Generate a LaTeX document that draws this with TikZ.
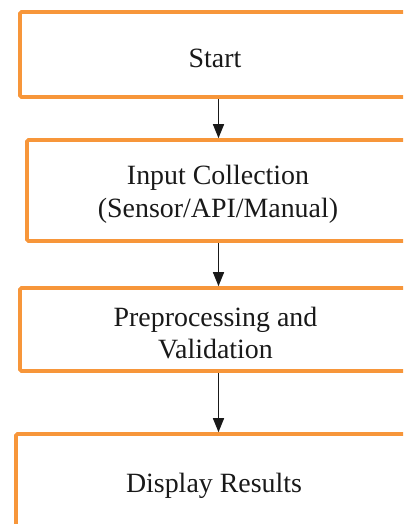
\documentclass[tikz,border=0pt]{standalone}
\usepackage{fontspec}
\setmainfont{Liberation Serif}
\usetikzlibrary{arrows.meta}
\definecolor{boxorange}{RGB}{247,150,58}
\newcommand{\topstrut}{\rule{0pt}{26.5bp}}
\tikzset{
    stepbox/.style={draw=boxorange, line width=3.6bp, rounded corners=1.5bp,
        align=center, font=\fontsize{28}{33}\selectfont, text=black!90},
    flow/.style={line width=1.4bp, black!90, -{Triangle[length=14bp,width=11bp]}}
}
\begin{document}
\begin{tikzpicture}[x=1bp, y=-1bp]
    \useasboundingbox (0,0) rectangle (403,524);
    \clip (0,0) rectangle (403,524);
    \node[stepbox, minimum width=390bp, minimum height=85bp] (start) at (215,54.5) {\topstrut Start};
    \node[stepbox, minimum width=382bp, minimum height=101bp] (input) at (218,190.5)
        {\topstrut Input Collection\\(Sensor/API/Manual)};
    \node[stepbox, minimum width=391bp, minimum height=83bp] (prep) at (215.5,329.5)
        {\topstrut Preprocessing and\\Validation};
    \node[stepbox, minimum width=396bp, minimum height=96bp] (display) at (214,482) {\topstrut Display Results};
    % arrows run straight down
    \coordinate (axis) at (218.5,0);
    \draw[flow] (start.south -| axis) -- (input.north -| axis);
    \draw[flow] (input.south -| axis) -- (prep.north -| axis);
    \draw[flow] (prep.south -| axis) -- (display.north -| axis);
\end{tikzpicture}
\end{document}
